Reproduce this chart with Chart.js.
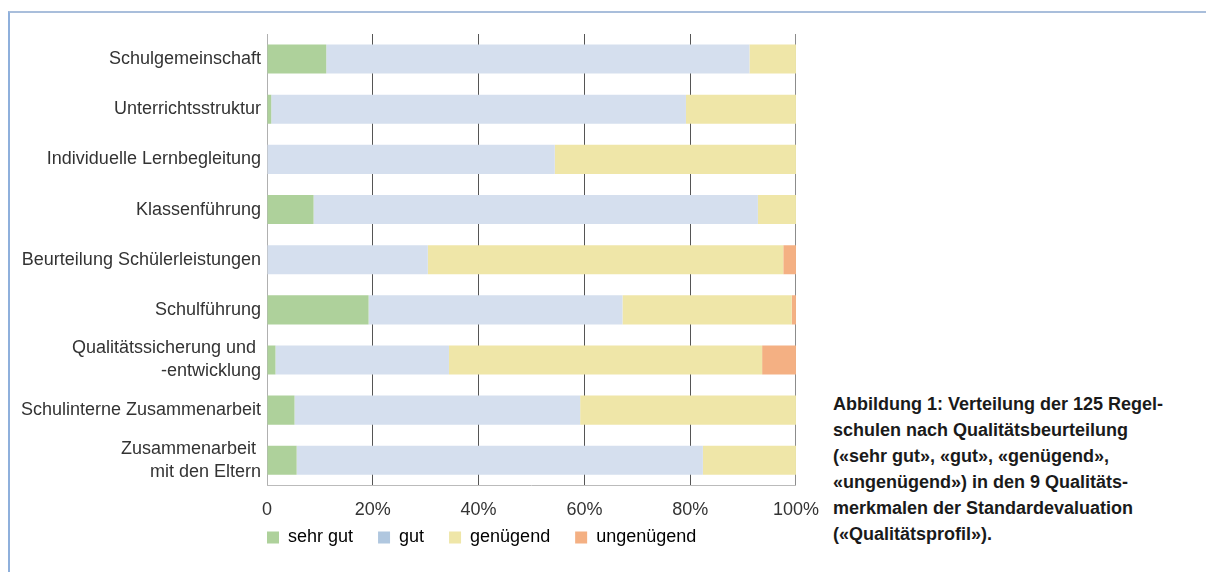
<!DOCTYPE html>
<html>
<head>
<meta charset="utf-8">
<script src="https://cdn.jsdelivr.net/npm/chart.js@4.4.1/dist/chart.umd.min.js"></script>
<style>
    html, body { margin: 0; padding: 0; background: #fff; }
    body { width: 1206px; height: 572px; position: relative; overflow: hidden; font-family: 'Liberation Sans', Arial, sans-serif; }
    .frame { position: absolute; left: 8px; top: 11px; right: 0; bottom: 0; border-top: 2px solid #a9bedb; border-left: 2px solid #8fb0dc; }
    .chart-box { position: absolute; left: 0; top: 0; width: 833px; height: 588px; }
    .caption { position: absolute; left: 833px; top: 391px; font-weight: bold; font-size: 18px; line-height: 26px; color: #1a1a1a; white-space: nowrap; }
</style>
</head>
<body>
<div class="frame"></div>
<div class="chart-box"><canvas id="qualityChart"></canvas></div>
<div class="caption">
    Abbildung 1: Verteilung der 125 Regel-<br>
    schulen nach Qualitätsbeurteilung<br>
    («sehr gut», «gut», «genügend»,<br>
    «ungenügend») in den 9 Qualitäts-<br>
    merkmalen der Standardevaluation<br>
    («Qualitätsprofil»).
</div>
<script>
const categories = [
    'Schulgemeinschaft',
    'Unterrichtsstruktur',
    'Individuelle Lernbegleitung',
    'Klassenführung',
    'Beurteilung Schülerleistungen',
    'Schulführung',
    ['Qualitätssicherung und ', '-entwicklung'],
    'Schulinterne Zusammenarbeit',
    ['Zusammenarbeit ', 'mit den Eltern']
];

// percentages of schools per rating
const sehrGut    = [11.2,  0.8,  0.0,  8.8,  0.0, 19.2,  1.6,  5.2,  5.6];
const gut        = [80.0, 78.4, 54.4, 84.0, 30.4, 48.0, 32.8, 54.0, 76.8];
const genuegend  = [ 8.8, 20.8, 45.6,  7.2, 67.2, 32.0, 59.2, 40.8, 17.6];
const ungenuegend = [0.0,  0.0,  0.0,  0.0,  2.4,  0.8,  6.4,  0.0,  0.0];

const seriesNames = ['sehr gut', 'gut', 'genügend', 'ungenügend'];
const barColors = ['#aed19b', '#d5dfee', '#efe6a8', '#f4b083'];
const legendColors = ['#aed19b', '#b0c7df', '#efe6a8', '#f4b083'];
const xTickLabels = ['0', '20%', '40%', '60%', '80%', '100%'];

const FONT = "'Liberation Sans', Helvetica, Arial, sans-serif";

const seriesValues = [sehrGut, gut, genuegend, ungenuegend];
const datasets = seriesNames.map((name, i) => ({
    label: name,
    data: seriesValues[i],
    backgroundColor: barColors[i],
    borderWidth: 0,
    categoryPercentage: 1,
    barPercentage: 0.58
}));

// pull the legend up under the tick labels and line its first swatch up with the plot
const legendShift = {
    id: 'legendShift',
    beforeDraw(chart) {
        const lg = chart.legend;
        if (lg) {
            lg.left = chart.chartArea.left - lg.options.labels.padding;
            lg.top = chart.chartArea.bottom + 18;
        }
    }
};

const gridColor = (ctx) => {
    if (ctx.index === 0) return '#b0b0b0';
    if (ctx.index === xTickLabels.length - 1) return '#8c8c8c';
    return '#555555';
};

const ctx = document.getElementById('qualityChart').getContext('2d');
const chart = new Chart(ctx, {
    type: 'bar',
    data: { labels: categories, datasets: datasets },
    options: {
        indexAxis: 'y',
        responsive: true,
        maintainAspectRatio: false,
        animation: false,
        layout: { padding: { left: 0, right: 11, top: 34, bottom: 0 } },
        plugins: {
            title: { display: false },
            tooltip: { enabled: false },
            legend: {
                position: 'bottom',
                align: 'start',
                fullSize: false,
                labels: {
                    color: '#333',
                    font: { family: FONT, size: 18 },
                    boxWidth: 12,
                    boxHeight: 12,
                    padding: 25,
                    generateLabels: (c) => seriesNames.map((name, i) => ({
                        text: name,
                        fillStyle: legendColors[i],
                        strokeStyle: legendColors[i],
                        lineWidth: 0,
                        datasetIndex: i
                    }))
                }
            }
        },
        scales: {
            x: {
                stacked: true,
                min: 0,
                max: 100,
                ticks: {
                    stepSize: 20,
                    color: '#333',
                    font: { family: FONT, size: 18 },
                    padding: 14,
                    maxRotation: 0,
                    callback: (v) => xTickLabels[Math.round(v / 20)]
                },
                grid: { color: gridColor, lineWidth: 1, drawTicks: false },
                border: { display: true, color: '#bbbbbb' }
            },
            y: {
                stacked: true,
                ticks: {
                    color: '#333',
                    font: { family: FONT, size: 18, lineHeight: 1.28 },
                    padding: 6,
                    autoSkip: false
                },
                grid: { display: false, drawTicks: false },
                border: { display: false },
                afterFit: (scale) => { scale.width = 267; }
            }
        }
    },
    plugins: [legendShift]
});
</script>
</body>
</html>
